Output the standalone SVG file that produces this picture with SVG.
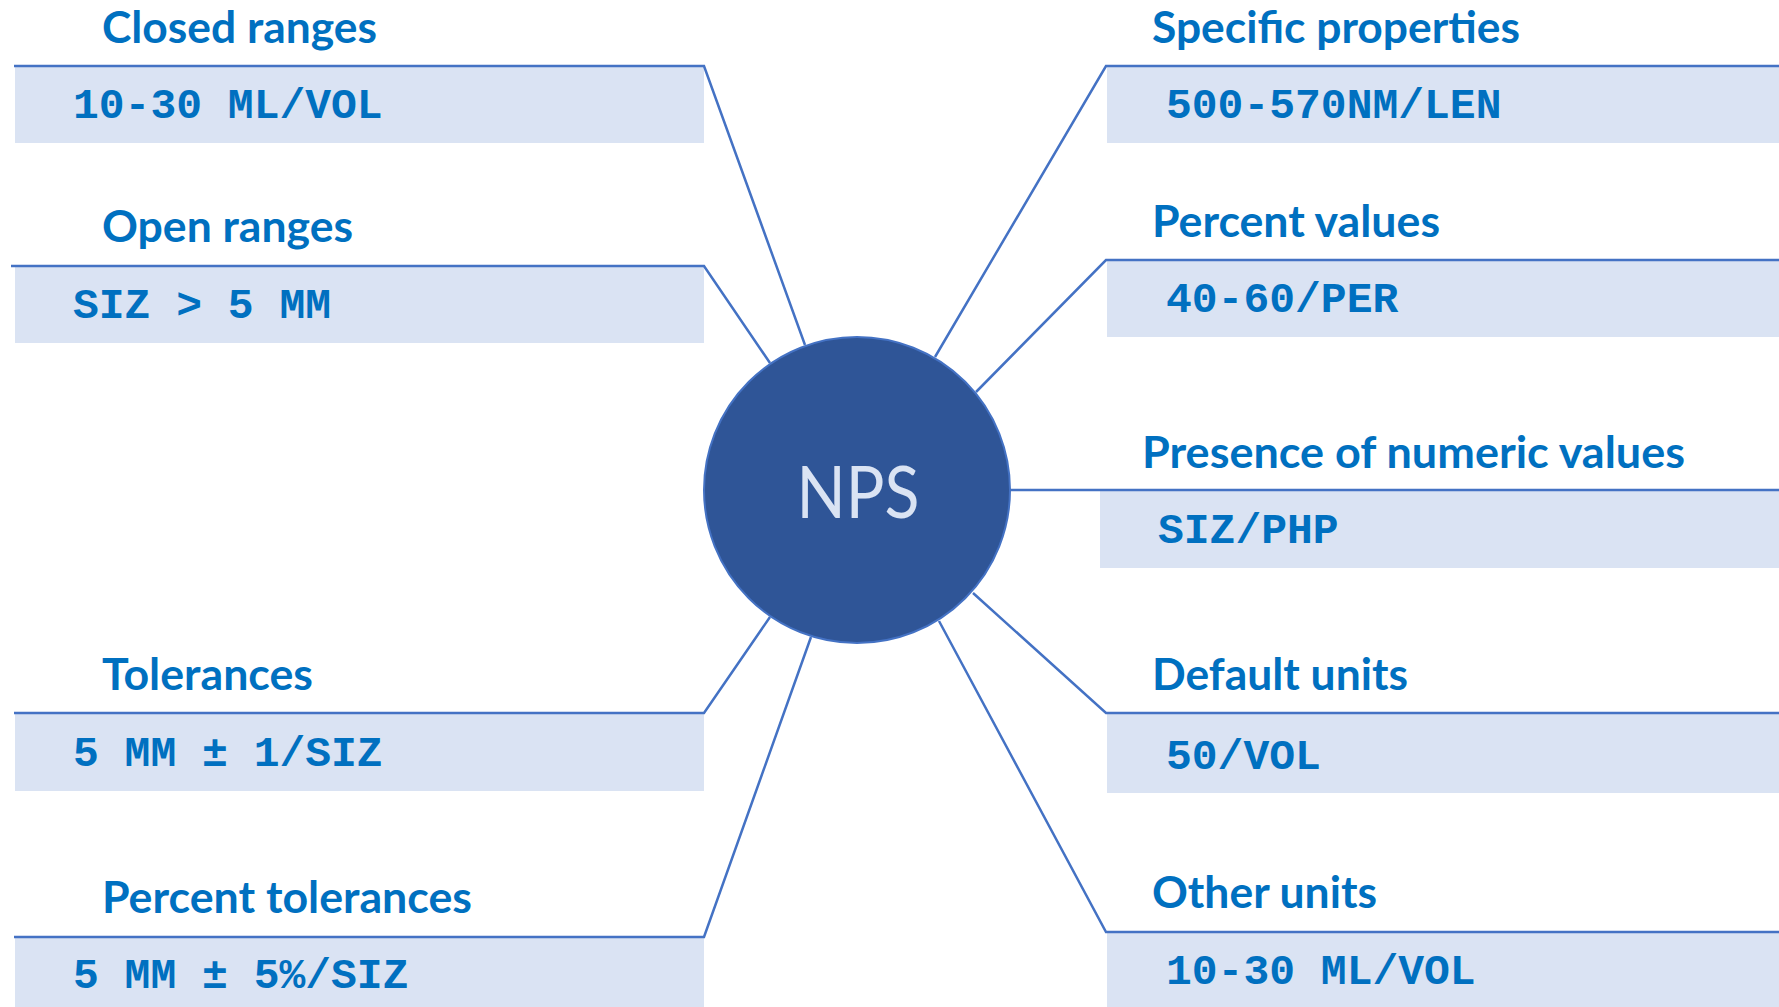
<svg xmlns="http://www.w3.org/2000/svg" width="1779" height="1007" viewBox="0 0 1779 1007">
<style>
.box{fill:#DAE3F3}
.title{font-family:Lato,"Open Sans","Liberation Sans",sans-serif;font-weight:bold;font-size:43px;fill:#0070C0}
.val{font-family:"Liberation Mono","DejaVu Sans Mono",monospace;font-weight:bold;font-size:43px;fill:#0070C0}
.conn{fill:none;stroke:#4472C4;stroke-width:2.5;stroke-linejoin:miter}
</style>
<rect width="1779" height="1007" fill="#FFFFFF"/>
<g id="closed-ranges">
<rect class="box" x="15" y="66" width="689" height="77"/>
<text class="title" x="102" y="43" textLength="275" lengthAdjust="spacingAndGlyphs">Closed ranges</text>
<text class="val" x="73" y="118">10-30 ML/VOL</text>
</g>
<g id="open-ranges">
<rect class="box" x="15" y="266" width="689" height="77"/>
<text class="title" x="102" y="242" textLength="251" lengthAdjust="spacingAndGlyphs">Open ranges</text>
<text class="val" x="73" y="318">SIZ &gt; 5 MM</text>
</g>
<g id="tolerances">
<rect class="box" x="15" y="713" width="689" height="78"/>
<text class="title" x="102" y="690" textLength="211" lengthAdjust="spacingAndGlyphs">Tolerances</text>
<text class="val" x="73" y="766">5 MM ± 1/SIZ</text>
</g>
<g id="percent-tolerances">
<rect class="box" x="15" y="937" width="689" height="70"/>
<text class="title" x="102" y="913" textLength="370" lengthAdjust="spacingAndGlyphs">Percent tolerances</text>
<text class="val" x="73" y="988">5 MM ± 5%/SIZ</text>
</g>
<g id="specific-properties">
<rect class="box" x="1107" y="66" width="672" height="77"/>
<text class="title" x="1152" y="43" textLength="368" lengthAdjust="spacingAndGlyphs">Specific properties</text>
<text class="val" x="1166" y="118">500-570NM/LEN</text>
</g>
<g id="percent-values">
<rect class="box" x="1107" y="260" width="672" height="77"/>
<text class="title" x="1152" y="237" textLength="288" lengthAdjust="spacingAndGlyphs">Percent values</text>
<text class="val" x="1166" y="312">40-60/PER</text>
</g>
<g id="presence-numeric">
<rect class="box" x="1100" y="490" width="679" height="78"/>
<text class="title" x="1142" y="468" textLength="543" lengthAdjust="spacingAndGlyphs">Presence of numeric values</text>
<text class="val" x="1158" y="543">SIZ/PHP</text>
</g>
<g id="default-units">
<rect class="box" x="1107" y="713" width="672" height="80"/>
<text class="title" x="1152" y="690" textLength="256" lengthAdjust="spacingAndGlyphs">Default units</text>
<text class="val" x="1166" y="769">50/VOL</text>
</g>
<g id="other-units">
<rect class="box" x="1107" y="932" width="672" height="75"/>
<text class="title" x="1152" y="908" textLength="225" lengthAdjust="spacingAndGlyphs">Other units</text>
<text class="val" x="1166" y="984">10-30 ML/VOL</text>
</g>
<g id="connectors">
<polyline class="conn" points="14,66 704,66 805,345"/>
<polyline class="conn" points="11,266 704,266 770,363"/>
<polyline class="conn" points="14,713 704,713 770,617"/>
<polyline class="conn" points="14,937 704,937 811,637"/>
<polyline class="conn" points="1779,66 1106,66 935,357"/>
<polyline class="conn" points="1779,260 1106,260 976,392"/>
<polyline class="conn" points="1779,490 1010,490"/>
<polyline class="conn" points="1779,713 1106,713 973,593"/>
<polyline class="conn" points="1779,932 1106,932 939,621"/>
</g>
<g id="nps">
<circle cx="857" cy="490" r="153" fill="#2F5597" stroke="#4472C4" stroke-width="2"/>
<text x="858" y="518" text-anchor="middle" font-family="Lato,'Open Sans','Liberation Sans',sans-serif" font-size="72" fill="#DAE3F3" textLength="123" lengthAdjust="spacingAndGlyphs">NPS</text>
</g>
</svg>
